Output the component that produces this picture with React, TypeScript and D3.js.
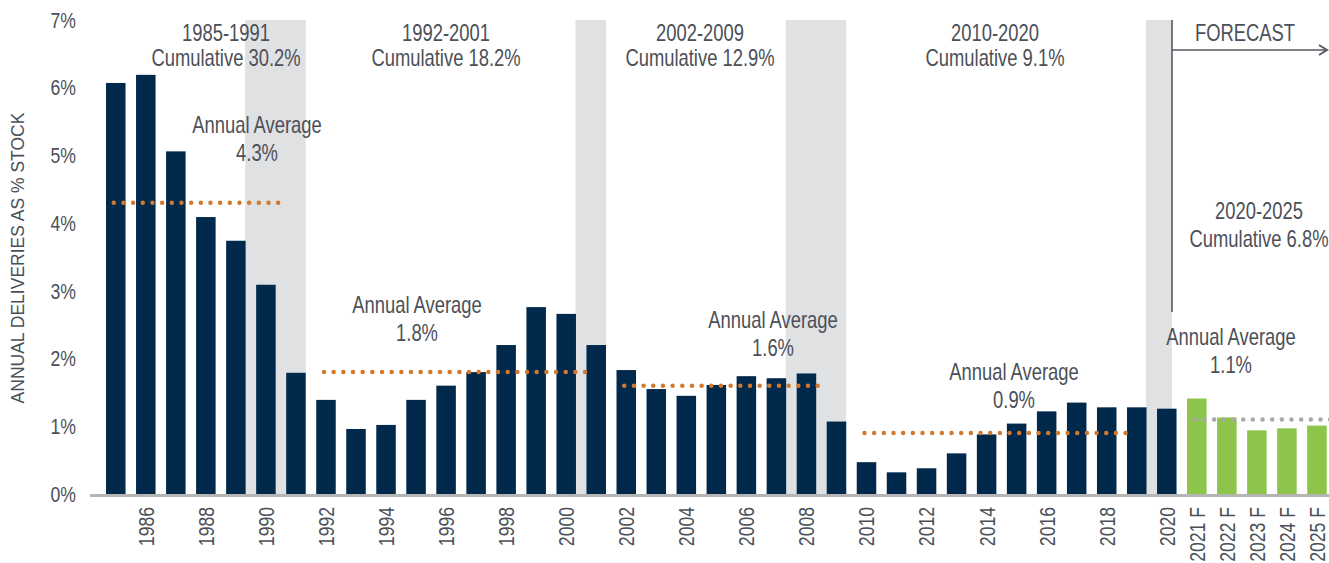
import React from "react";
import * as d3 from "d3";

const categories = [
  "1985","1986","1987","1988","1989","1990","1991","1992","1993","1994",
  "1995","1996","1997","1998","1999","2000","2001","2002","2003","2004",
  "2005","2006","2007","2008","2009","2010","2011","2012","2013","2014",
  "2015","2016","2017","2018","2019","2020",
  "2021 F","2022 F","2023 F","2024 F","2025 F",
];
const values = [
  6.07, 6.19, 5.06, 4.09, 3.74, 3.09, 1.79, 1.39, 0.96, 1.02,
  1.39, 1.60, 1.80, 2.20, 2.76, 2.66, 2.20, 1.83, 1.55, 1.45,
  1.61, 1.74, 1.71, 1.78, 1.07, 0.47, 0.32, 0.38, 0.60, 0.88,
  1.04, 1.22, 1.35, 1.28, 1.28, 1.26,
  1.41, 1.13, 0.94, 0.97, 1.01,
];
const forecastCategories = ["2021 F","2022 F","2023 F","2024 F","2025 F"];
const xTickLabels = [
  "1986","1988","1990","1992","1994","1996","1998","2000","2002","2004",
  "2006","2008","2010","2012","2014","2016","2018","2020",
  "2021 F","2022 F","2023 F","2024 F","2025 F",
];
const yTicks = [0, 1, 2, 3, 4, 5, 6, 7];
const shadedRanges = [
  ["1990", "1991"],
  ["2001", "2001"],
  ["2008", "2009"],
  ["2020", "2020"],
];
const averageFrom = ["1985", "1992", "2002", "2010", "2021 F"];
const averageTo = ["1991", "2001", "2009", "2019", "2025 F"];
const averageValues = [4.3, 1.8, 1.6, 0.9, 1.1];
const periodTitles = ["1985-1991", "1992-2001", "2002-2009", "2010-2020"];
const periodCumulative = ["Cumulative 30.2%", "Cumulative 18.2%", "Cumulative 12.9%", "Cumulative 9.1%"];
const averageLabels = ["4.3%", "1.8%", "1.6%", "0.9%", "1.1%"];

const W = 1329;
const H = 563;
const NAVY = "#01294c";
const GREEN = "#8cc54a";
const BAND = "#e0e1e3";
const TEXT = "#4b5058";
const ORANGE = "#d2792e";
const GREYDOT = "#a8a8a8";
const FONT = "'Liberation Sans', Arial, sans-serif";
const SQ = 0.8;

function T(props: {
  x: number;
  y: number;
  rot?: boolean;
  size: number;
  anchor?: string;
  dy?: string;
  children: React.ReactNode;
}) {
  const { x, y, rot, size, anchor, dy, children } = props;
  return (
    <text
      transform={`translate(${x},${y})${rot ? " rotate(-90)" : ""} scale(${SQ},1)`}
      fontSize={size}
      textAnchor={anchor || "middle"}
      dy={dy}
      fill={TEXT}
    >
      {children}
    </text>
  );
}

export default function App() {
  const x = d3
    .scaleBand<string>()
    .domain(categories)
    .range([95.5, 1337.2])
    .paddingInner(0.35)
    .paddingOuter(0.35);
  const y = d3.scaleLinear().domain([0, 7]).range([494, 20]);
  const bw = x.bandwidth();
  const cx = (c: string) => (x(c) as number) + bw / 2;
  const forecastX = (x("2020") as number) + 15;

  const periodTitleX = [226, 446, 700, 995];
  const avgLabelPos = [
    [257, 133],
    [417, 313],
    [773, 328],
    [1014, 380],
    [1231, 345],
  ];

  return (
    <svg
      width={W}
      height={H}
      style={{ position: "absolute", left: 0, top: 0, background: "#fff" }}
      fontFamily={FONT}
    >
      {shadedRanges.map(([s, e], i) => {
        const left = (x(s) as number) - 11;
        const right = i === shadedRanges.length - 1 ? forecastX : (x(e) as number) + bw;
        return (
          <rect key={i} x={left} y={y(7)} width={right - left} height={y(0) - y(7)} fill={BAND} />
        );
      })}

      {categories.map((c, i) => (
        <rect
          key={c}
          x={x(c)}
          y={y(values[i])}
          width={bw}
          height={y(0) - y(values[i])}
          fill={forecastCategories.includes(c) ? GREEN : NAVY}
        />
      ))}

      <line x1={90} x2={W} y1={495.5} y2={495.5} stroke="#b5b5b5" strokeWidth={3} />

      {yTicks.map((t) => (
        <T key={t} x={76} y={y(t)} dy="0.35em" anchor="end" size={22}>
          {t}%
        </T>
      ))}

      <text
        transform={`translate(24, 258) rotate(-90)`}
        textAnchor="middle"
        fontSize={17.5}
        fill={TEXT}
      >
        ANNUAL DELIVERIES AS % STOCK
      </text>

      {xTickLabels.map((c) => (
        <T key={c} x={cx(c)} y={507} rot anchor="end" dy="0.36em" size={22}>
          {c}
        </T>
      ))}

      {averageValues.map((v, i) => {
        const last = i === averageValues.length - 1;
        const x1 = cx(averageFrom[i]) - 2;
        const x2 = last ? cx(averageTo[i]) + 14 : cx(averageTo[i]) - 10;
        return (
          <line
            key={i}
            x1={x1}
            x2={x2}
            y1={y(v)}
            y2={y(v)}
            stroke={last ? GREYDOT : ORANGE}
            strokeWidth={4.5}
            strokeLinecap="round"
            strokeDasharray="0 9.67"
          />
        );
      })}

      {periodTitles.map((t, i) => (
        <g key={t}>
          <T x={periodTitleX[i]} y={41} size={23}>{t}</T>
          <T x={periodTitleX[i]} y={66} size={23}>{periodCumulative[i]}</T>
        </g>
      ))}

      {averageLabels.map((t, i) => (
        <g key={i}>
          <T x={avgLabelPos[i][0]} y={avgLabelPos[i][1]} size={23}>Annual Average</T>
          <T x={avgLabelPos[i][0]} y={avgLabelPos[i][1] + 28} size={23}>{t}</T>
        </g>
      ))}

      <line x1={forecastX} x2={forecastX} y1={y(7)} y2={312} stroke="#555a61" strokeWidth={1.6} />
      <line x1={forecastX} x2={1326} y1={50} y2={50} stroke="#555a61" strokeWidth={1.6} />
      <path d="M1319,45 L1327,50 L1319,55" fill="none" stroke="#555a61" strokeWidth={2} />
      <T x={1245} y={41} size={23}>FORECAST</T>
      <T x={1259} y={219} size={23}>2020-2025</T>
      <T x={1259} y={247} size={23}>Cumulative 6.8%</T>
    </svg>
  );
}
